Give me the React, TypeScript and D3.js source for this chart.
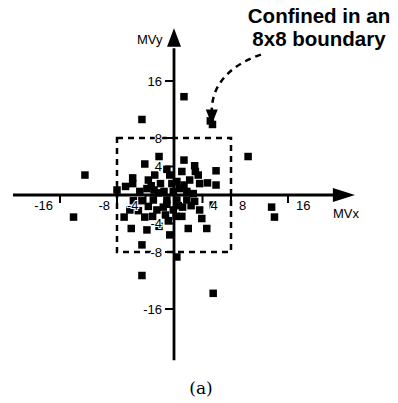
import { useEffect, useRef } from 'react'
import * as d3 from 'd3'

// motion vector samples (MVx, MVy)
const mvX = [
  -2.1, -4.1, 1.4, 2.9, 1.1, 5.9, 3.4, -5.8, -5.8, -3.6, -2.7, -3.8, -2.8, -1.9, -0.6, -0.3, -0.1,
  2.2, 3.6, 4.7, 5.9, -8.0, 0.8, 1.8, 2.7, -1.4, -4.8,
  -5.7, -6.2, -7.0, -6.0, -4.1, -3.6, -2.4, -1.5, -4.5, -2.9, -3.8, -2.1, -0.8, -0.6, 1.1, 1.2,
  2.0, 3.6, 3.9, 4.6, 5.5, -4.5, 0.4, 1.8, 2.9, 0.4, -1.0, -0.1,
  -3.2, -2.2, 0.4, 1.4, -1.0, 0.6, 2.4, -5.0, -3.0, -1.2, 0.3, 3.0, -1.0, -6.8,
  -4.5, 1.4, 5.4, 5.1, -12.5, -14.1, 10.4, 13.7, 14.1, -4.5, 5.5,
]
const mvY = [
  5.4, 4.35, 4.9, 4.1, 3.3, 3.4, 2.8, 2.4, 1.6, 2.1, 2.8, 0.9, 0.7, 1.6, 2.8, 1.6, 0.5,
  2.1, 1.6, 1.7, 1.4, 0.7, 0.9, 0.5, 0.2, 0.5, 0.5,
  -0.8, -2.1, -3.1, -4.7, -3.1, -1.6, -2.1, -1.7, -0.8, -0.7, -4.9, -4.4, -3.6, -5.6, -3.0, -1.7,
  -4.7, -2.1, -3.3, -4.7, -1.4, -7.0, -8.7, -0.7, -0.9, -0.7, -0.7, -2.1,
  1.3, 0.3, 1.9, 1.4, -1.3, -1.5, -1.5, -2.2, -3.0, -2.8, -3.0, 3.3, 3.6, 1.2,
  10.6, 13.8, 9.9, 10.4, 2.8, -3.1, 5.4, -1.7, -3.1, -11.3, -13.8,
]

const xTicks = [-16, -8, -4, 4, 8, 16]
const yTicks = [-16, -8, -4, 4, 8, 16]
const boundary = 8

export default function App() {
  const ref = useRef<SVGSVGElement>(null)

  useEffect(() => {
    if (!ref.current) return
    const svg = d3.select(ref.current)
    svg.selectAll('*').remove()

    const x = d3.scaleLinear().domain([-16, 16]).range([60, 288])
    const y = d3.scaleLinear().domain([-16, 16]).range([309, 81])
    const font = 'Liberation Sans, Arial, sans-serif'

    // dashed 8x8 boundary
    svg.append('rect')
      .attr('x', x(-boundary)).attr('y', y(boundary))
      .attr('width', x(boundary) - x(-boundary))
      .attr('height', y(-boundary) - y(boundary))
      .attr('fill', 'none').attr('stroke', '#000')
      .attr('stroke-width', 2.5).attr('stroke-dasharray', '6,5')

    // points
    const sz = 7.5
    svg.append('g').selectAll('rect')
      .data(mvX.map((v, i) => [v, mvY[i]]))
      .join('rect')
      .attr('x', d => x(d[0]) - sz / 2)
      .attr('y', d => y(d[1]) - sz / 2)
      .attr('width', sz).attr('height', sz)
      .attr('fill', '#000')

    // axes
    svg.append('line')
      .attr('x1', x(-22.6)).attr('x2', x(22.6))
      .attr('y1', y(0)).attr('y2', y(0))
      .attr('stroke', '#000').attr('stroke-width', 2.8)
    svg.append('path')
      .attr('d', `M${x(22.3)},${y(0) - 7}L${x(25.4)},${y(0)}L${x(22.3)},${y(0) + 7}Z`)
      .attr('fill', '#000')

    svg.append('line')
      .attr('x1', x(0)).attr('x2', x(0))
      .attr('y1', y(-23.2)).attr('y2', y(20.6))
      .attr('stroke', '#000').attr('stroke-width', 2.8)
    svg.append('path')
      .attr('d', `M${x(0) - 7},${y(20.8)}L${x(0)},${y(23.4)}L${x(0) + 7},${y(20.8)}Z`)
      .attr('fill', '#000')

    // ticks
    xTicks.forEach(t => {
      svg.append('line')
        .attr('x1', x(t)).attr('x2', x(t))
        .attr('y1', y(0)).attr('y2', y(0) + 8)
        .attr('stroke', '#000').attr('stroke-width', 2)
      svg.append('text')
        .attr('x', t < 0 ? x(t) - 7 : x(t) + 8)
        .attr('y', y(0) + 15)
        .attr('text-anchor', t < 0 ? 'end' : 'start')
        .style('font-family', font).style('font-size', '13px')
        .style('paint-order', 'stroke').style('stroke', '#fff').style('stroke-width', '2px')
        .text(t)
    })
    yTicks.forEach(t => {
      svg.append('line')
        .attr('x1', x(0) - 9).attr('x2', x(0))
        .attr('y1', y(t)).attr('y2', y(t))
        .attr('stroke', '#000').attr('stroke-width', 2)
      svg.append('text')
        .attr('x', x(0) - 12)
        .attr('y', y(t) + 4.5)
        .attr('text-anchor', 'end')
        .style('font-family', font).style('font-size', '13px')
        .style('paint-order', 'stroke').style('stroke', '#fff').style('stroke-width', '2px')
        .text(t)
    })

    // axis names
    svg.append('text')
      .attr('x', x(0) - 37).attr('y', y(21.2))
      .style('font-family', font).style('font-size', '13px')
      .text('MVy')
    svg.append('text')
      .attr('x', x(22.3)).attr('y', y(0) + 23)
      .style('font-family', font).style('font-size', '13px')
      .text('MVx')

    // annotation
    svg.append('path')
      .attr('d', `M${x(12.2)},${y(19.7)}C${x(8.3)},${y(18.4)} ${x(5.3)},${y(15.8)} ${x(5.3)},${y(11.8)}`)
      .attr('fill', 'none').attr('stroke', '#000')
      .attr('stroke-width', 2.5).attr('stroke-dasharray', '6,5')
    svg.append('path')
      .attr('d', `M${x(5.3) - 6},${y(12)}L${x(5.3)},${y(9.9)}L${x(5.3) + 6},${y(12)}Z`)
      .attr('fill', '#000')

    const note = svg.append('text')
      .attr('text-anchor', 'middle')
      .style('font-family', font).style('font-size', '20.5px').style('font-weight', 'bold')
    note.append('tspan').attr('x', 319).attr('y', 23).text('Confined in an')
    note.append('tspan').attr('x', 319).attr('y', 46).text('8x8 boundary')

    svg.append('text')
      .attr('x', 201).attr('y', 394)
      .attr('text-anchor', 'middle')
      .style('font-family', 'DejaVu Serif, serif').style('font-size', '17px')
      .text('(a)')
  }, [])

  return (
    <svg ref={ref} width={398} height={403}
      style={{ position: 'absolute', left: 0, top: 0, background: '#fff' }} />
  )
}
